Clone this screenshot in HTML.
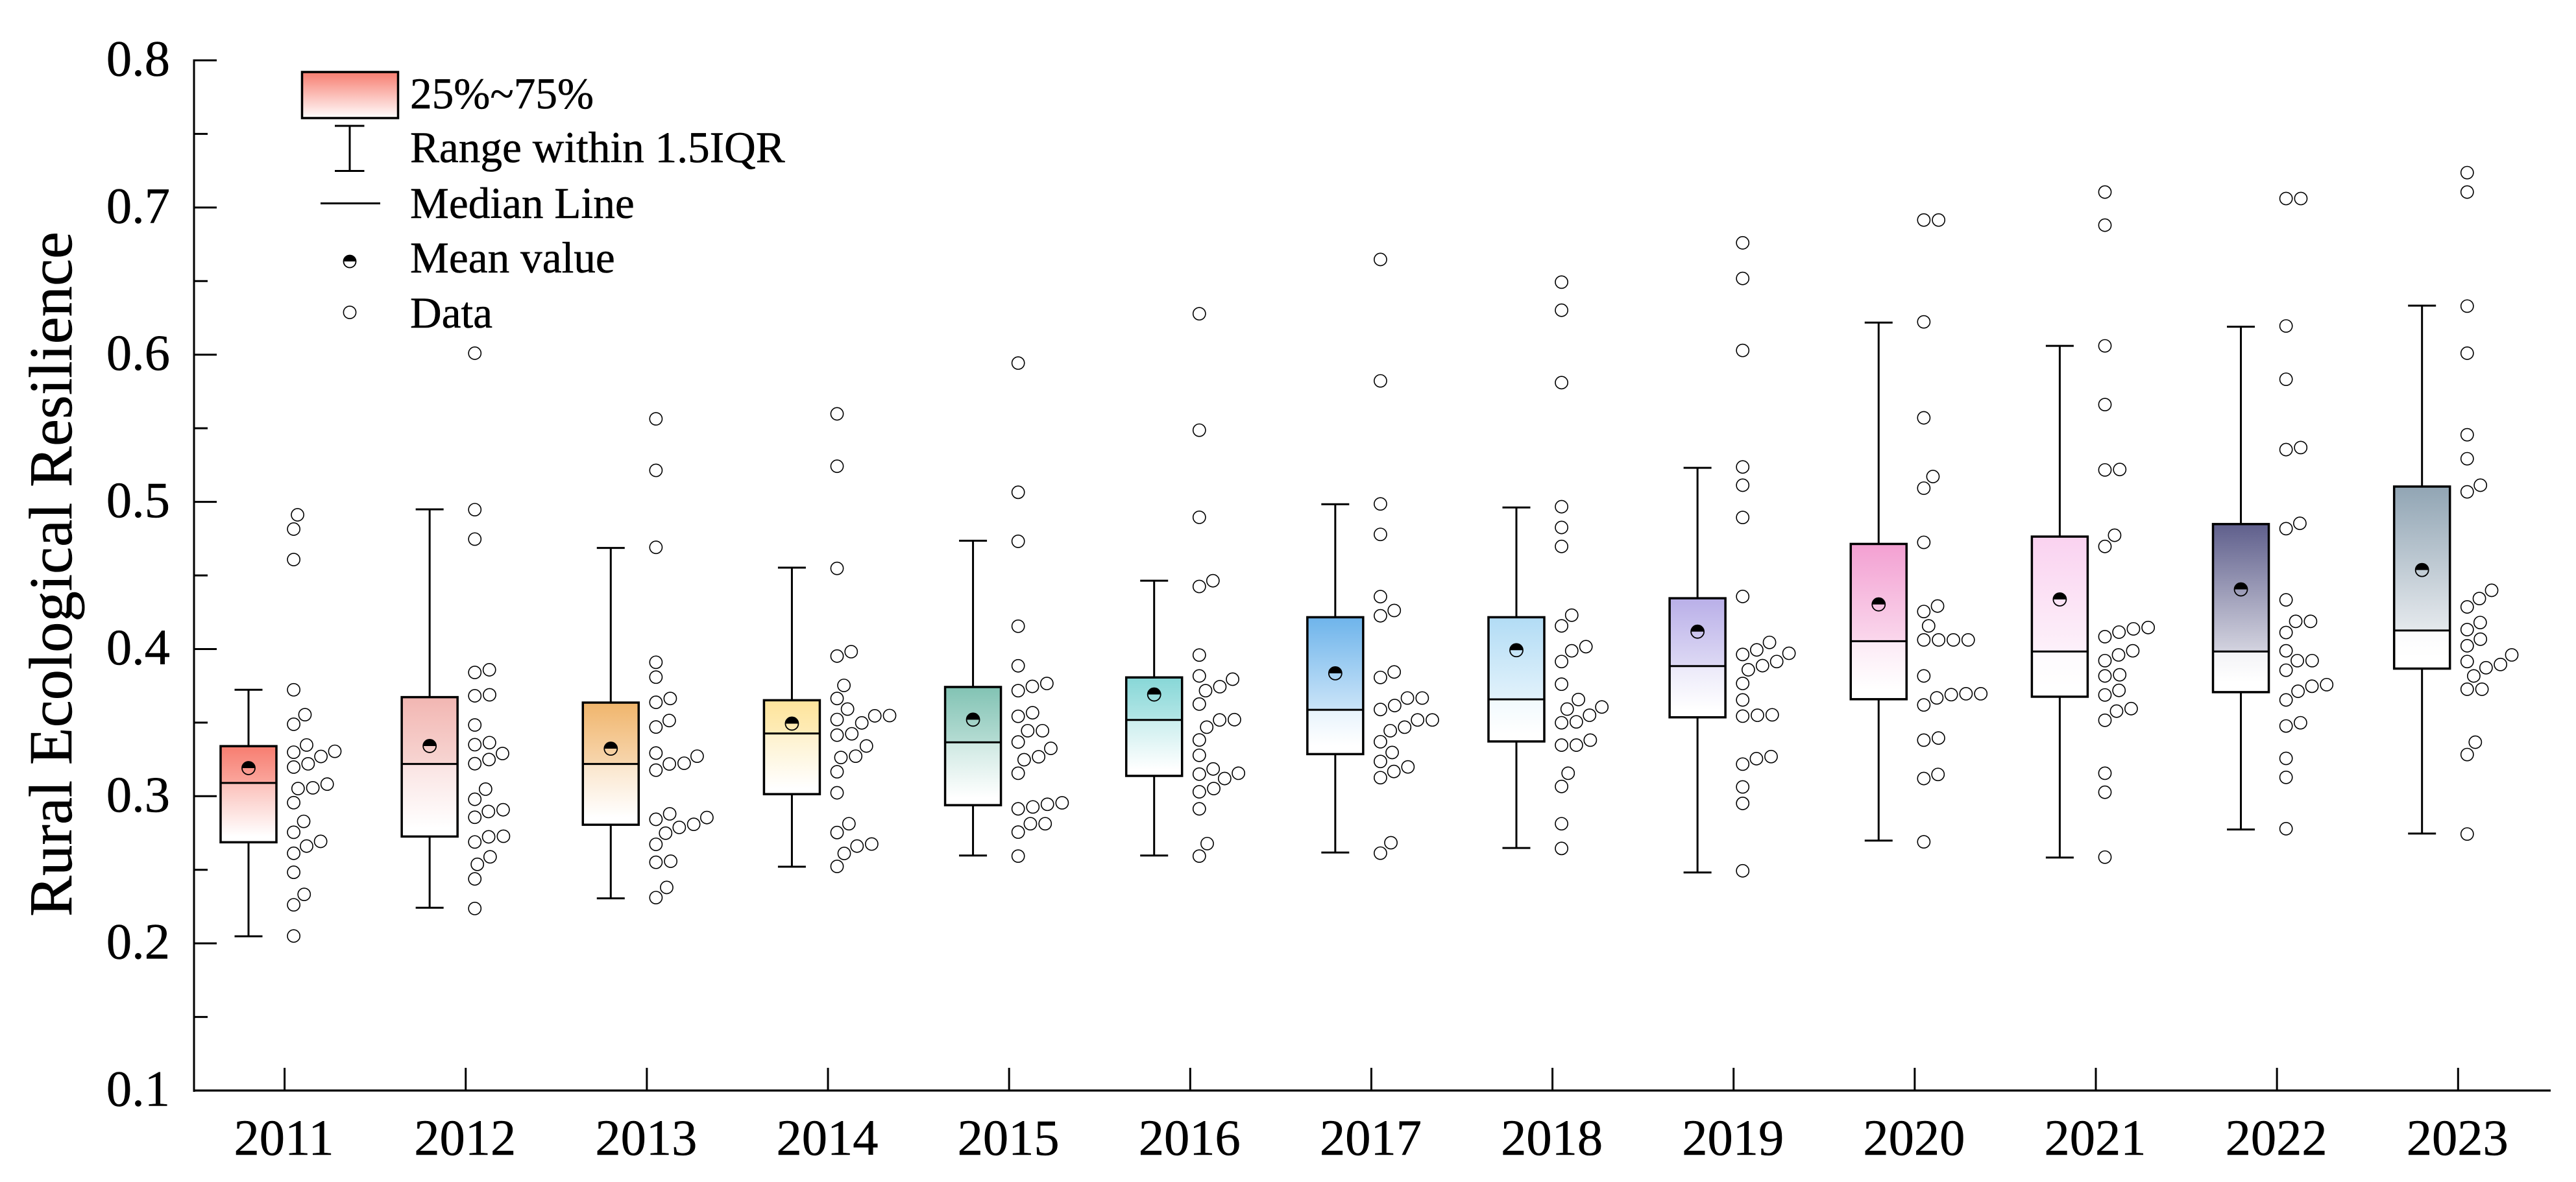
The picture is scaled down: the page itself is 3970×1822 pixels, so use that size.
<!DOCTYPE html>
<html lang="en">
<head>
<meta charset="utf-8">
<title>Rural Ecological Resilience box plot</title>
<style>
html,body{margin:0;padding:0;background:#fff;width:3970px;height:1822px;overflow:hidden}
svg{display:block}
text{font-family:"Liberation Serif",serif;fill:#000;stroke:#000;stroke-width:.5px}
</style>
</head>
<body>
<svg id="chart" xmlns="http://www.w3.org/2000/svg" width="3970" height="1822" viewBox="0 0 3970 1822">
  <defs>
    <linearGradient id="legend-gradient" x1="0" y1="0" x2="0" y2="1">
      <stop offset="0" stop-color="#f77d70"/>
      <stop offset="0.97" stop-color="#fffafa"/>
    </linearGradient>
  </defs>
  <rect x="0" y="0" width="3970" height="1822" fill="#fff"/>
  <text transform="translate(110,1413) rotate(-90)" font-size="94.6">Rural Ecological Resilience</text>
  <g id="plot"></g>
  <g>
    <rect x="465.5" y="111" width="148" height="71" fill="url(#legend-gradient)" stroke="#000" stroke-width="3.5"/>
    <g stroke="#000" stroke-width="3" fill="none">
      <line x1="539" y1="194" x2="539" y2="263.5"/>
      <line x1="516" y1="194" x2="561.5" y2="194"/>
      <line x1="516" y1="263.5" x2="561.5" y2="263.5"/>
    </g>
    <line x1="494" y1="313.5" x2="586" y2="313.5" stroke="#000" stroke-width="3"/>
    <g>
      <circle cx="539" cy="403" r="9.5" fill="none" stroke="#000" stroke-width="1.8"/>
      <path d="M529.5 403A9.5 9.5 0 0 1 548.5 403Z" fill="#000"/>
    </g>
    <circle cx="539" cy="481.5" r="9.6" fill="#fff" stroke="#000" stroke-width="1.6"/>
    <text x="632" y="167" font-size="67.3">25%~75%</text>
    <text x="632" y="250" font-size="67.3">Range within 1.5IQR</text>
    <text x="632" y="336" font-size="67.3">Median Line</text>
    <text x="632" y="420" font-size="67.3">Mean value</text>
    <text x="632" y="505" font-size="67.3">Data</text>
  </g>
</svg>
<script>
const years = [2011,2012,2013,2014,2015,2016,2017,2018,2019,2020,2021,2022,2023];
const whiskerLow  = [.2048,.2242,.2306,.2521,.2597,.2597,.2617,.2648,.2482,.2698,.2583,.2774,.2746];
const quartile1   = [.2687,.2726,.2806,.3014,.2939,.3138,.3286,.3372,.3536,.3659,.3676,.3707,.3867];
const medians     = [.3090,.3219,.3219,.3426,.3366,.3518,.3587,.3658,.3884,.4053,.3983,.3983,.4126];
const quartile3   = [.3340,.3673,.3636,.3652,.3742,.3807,.4216,.4216,.4345,.4714,.4764,.4849,.5104];
const whiskerHigh = [.3723,.4949,.4687,.4553,.4736,.4464,.4984,.4962,.5231,.6218,.6060,.6190,.6333];
const means       = [.3191,.3341,.3323,.3493,.3520,.3691,.3835,.3992,.4118,.4303,.4337,.4405,.4537];
const boxColors = ['#f77d70','#f2b6b2','#f0b56c','#fee49b','#82c3b4','#87d7d7','#6eb4eb','#b2dcf5','#b9afe8','#f3a0d2','#fad2f0','#5f5f8c','#91a5b4'];
const yTickLabels = ['0.1','0.2','0.3','0.4','0.5','0.6','0.7','0.8'];
const yMinorTicks = [.15,.25,.35,.45,.55,.65,.75];

const data2011 = [.4912,.4815,.4608,.3723,.3554,.3489,.3348,.3305,.3299,.3270,.3220,.3198,.3082,.3057,.3052,.2956,.2829,.2755,.2693,.2661,.2612,.2483,.2333,.2262,.2050];
const data2012 = [.6010,.4947,.4747,.3859,.3841,.3689,.3682,.3484,.3364,.3350,.3290,.3249,.3221,.3048,.2979,.2908,.2896,.2857,.2728,.2724,.2689,.2588,.2537,.2438,.2237];
const data2013 = [.5564,.5214,.4691,.3910,.3809,.3664,.3638,.3514,.3470,.3293,.3272,.3224,.3219,.3177,.2880,.2855,.2843,.2809,.2788,.2749,.2673,.2558,.2551,.2380,.2311];
const data2014 = [.5598,.5242,.4548,.3982,.3952,.3753,.3664,.3592,.3548,.3546,.3521,.3498,.3424,.3415,.3341,.3272,.3263,.3166,.3023,.2813,.2753,.2675,.2661,.2611,.2523];
const data2015 = [.5943,.5065,.4732,.4155,.3886,.3766,.3746,.3717,.3567,.3543,.3445,.3445,.3368,.3325,.3268,.3248,.3156,.2955,.2945,.2927,.2914,.2813,.2813,.2756,.2593];
const data2016 = [.6278,.5487,.4895,.4464,.4425,.3959,.3817,.3795,.3744,.3717,.3626,.3520,.3518,.3469,.3382,.3278,.3185,.3156,.3150,.3120,.3052,.3030,.2914,.2678,.2593];
const data2017 = [.6647,.5822,.4986,.4779,.4356,.4262,.4226,.3844,.3807,.3667,.3667,.3616,.3589,.3518,.3518,.3469,.3445,.3370,.3297,.3236,.3199,.3168,.3126,.2684,.2613];
const data2018 = [.6493,.6302,.5810,.4967,.4826,.4697,.4230,.4157,.4016,.3988,.3915,.3761,.3657,.3606,.3592,.3550,.3505,.3499,.3381,.3347,.3347,.3156,.3066,.2813,.2645];
const data2019 = [.6760,.6518,.6029,.5237,.5113,.4894,.4357,.4045,.3994,.3971,.3963,.3915,.3887,.3859,.3766,.3654,.3553,.3550,.3544,.3269,.3255,.3218,.3063,.2951,.2493];
const data2020 = [.6915,.6915,.6223,.5571,.5172,.5093,.4725,.4292,.4255,.4157,.4062,.4062,.4062,.4062,.3817,.3696,.3696,.3690,.3668,.3620,.3395,.3381,.3148,.3120,.2690];
const data2021 = [.7105,.6880,.6060,.5661,.5220,.5217,.4773,.4697,.4146,.4137,.4115,.4084,.3988,.3960,.3921,.3825,.3817,.3719,.3688,.3595,.3578,.3516,.3156,.3027,.2586];
const data2022 = [.7061,.7061,.6195,.5833,.5369,.5355,.4854,.4818,.4334,.4188,.4188,.4112,.3988,.3921,.3921,.3856,.3758,.3747,.3713,.3654,.3499,.3477,.3257,.3128,.2779];
const data2023 = [.7237,.7105,.6330,.6010,.5456,.5293,.5113,.5068,.4399,.4343,.4286,.4180,.4132,.4067,.4022,.3960,.3915,.3895,.3873,.3817,.3727,.3727,.3367,.3283,.2743];
const dataByYear = [data2011,data2012,data2013,data2014,data2015,data2016,data2017,data2018,data2019,data2020,data2021,data2022,data2023];

const NS = 'http://www.w3.org/2000/svg';
const plot = document.getElementById('plot');
const defs = document.querySelector('#chart defs');

function yScale(v){ return 93 + (0.8 - v) * 2268.6; }
function xTick(i){ return 438.6 + i * 279.14; }
function xBox(i){ return xTick(i) - 55.6; }
function xData(i){ return xTick(i) + 14; }

function mk(tag, attrs, parent){
  const el = document.createElementNS(NS, tag);
  for (const k in attrs) el.setAttribute(k, attrs[k]);
  (parent || plot).appendChild(el);
  return el;
}
function mix(hex, w){
  const n = parseInt(hex.slice(1), 16);
  const c = [(n>>16)&255, (n>>8)&255, n&255].map(function(v){ return Math.round(v + (255 - v) * w); });
  return 'rgb(' + c.join(',') + ')';
}
/* Beeswarm: ascending by value, each point takes the smallest rightward offset clear of placed points */
function swarm(values, d){
  const placed = [];
  values.slice().sort(function(a,b){ return a - b; }).forEach(function(v){
    const py = yScale(v);
    const cands = [0];
    placed.forEach(function(p){
      const dy = Math.abs(p.y - py);
      if (dy < d) cands.push(p.x + Math.sqrt(d*d - dy*dy));
    });
    cands.sort(function(a,b){ return a - b; });
    let x = cands[cands.length - 1];
    for (let c = 0; c < cands.length; c++){
      const ok = placed.every(function(p){
        const dx = p.x - cands[c], dy = p.y - py;
        return dx*dx + dy*dy >= d*d - 0.01;
      });
      if (ok){ x = cands[c]; break; }
    }
    placed.push({x:x, y:py, v:v});
  });
  return placed;
}

/* Axes */
const yAxis = mk('line', {x1:299, y1:91.5, x2:299, y2:1683, stroke:'#000', 'stroke-width':3});


const xAxis = mk('line', {x1:297.5, y1:1681, x2:3931, y2:1681, stroke:'#000', 'stroke-width':3.2});



yTickLabels.forEach(function(lab){
  const v = parseFloat(lab);
  const t = mk('line', {x1:299, y1:yScale(v), x2:334, y2:yScale(v), stroke:'#000', 'stroke-width':3});
  
  
  const l = mk('text', {x:262, y:yScale(v) + 23.5, 'text-anchor':'end', 'font-size':78.5});
  
  
  l.textContent = lab;
});
yMinorTicks.forEach(function(v){
  const t = mk('line', {x1:299, y1:yScale(v), x2:320, y2:yScale(v), stroke:'#000', 'stroke-width':3});
  
  
});

years.forEach(function(year, i){
  const tick = mk('line', {x1:xTick(i), y1:1646, x2:xTick(i), y2:1681, stroke:'#000', 'stroke-width':3});
  
  
  const label = mk('text', {x:xTick(i) - 1, y:1780, 'text-anchor':'middle', 'font-size':78.5});
  
  
  label.textContent = year;

  const cx = xBox(i);
  const yHi = yScale(whiskerHigh[i]), yLo = yScale(whiskerLow[i]);
  const yQ3 = yScale(quartile3[i]), yQ1 = yScale(quartile1[i]), yMed = yScale(medians[i]);

  const group = mk('g', {});
  
  

  const w1 = mk('line', {x1:cx, y1:yHi, x2:cx, y2:yQ3, stroke:'#000', 'stroke-width':3}, group);
  
  
  const w2 = mk('line', {x1:cx, y1:yQ1, x2:cx, y2:yLo, stroke:'#000', 'stroke-width':3}, group);
  
  
  const c1 = mk('line', {x1:cx-21.5, y1:yHi, x2:cx+21.5, y2:yHi, stroke:'#000', 'stroke-width':3}, group);
  
  
  const c2 = mk('line', {x1:cx-21.5, y1:yLo, x2:cx+21.5, y2:yLo, stroke:'#000', 'stroke-width':3}, group);
  
  

  const f = (yMed - yQ3) / (yQ1 - yQ3);
  const wm = Math.min(1, f / 0.92);
  const grad = mk('linearGradient', {id:'grad-' + year, x1:0, y1:0, x2:0, y2:1}, defs);
  mk('stop', {offset:0, 'stop-color':boxColors[i]}, grad);
  mk('stop', {offset:f, 'stop-color':mix(boxColors[i], Math.max(0, wm - 0.1))}, grad);
  mk('stop', {offset:f, 'stop-color':mix(boxColors[i], Math.min(1, wm + 0.1))}, grad);
  mk('stop', {offset:0.94, 'stop-color':'#fff'}, grad);
  mk('stop', {offset:1, 'stop-color':'#fff'}, grad);

  const box = mk('rect', {x:cx-43, y:yQ3, width:86, height:yQ1-yQ3, fill:'url(#grad-' + year + ')', stroke:'#000', 'stroke-width':3.5}, group);
  
  
  const med = mk('line', {x1:cx-43, y1:yMed, x2:cx+43, y2:yMed, stroke:'#000', 'stroke-width':3}, group);
  
  

  const my = yScale(means[i]), r = 10;
  const ring = mk('circle', {cx:cx, cy:my, r:r, fill:'none', stroke:'#000', 'stroke-width':1.8}, group);
  
  
  const half = mk('path', {d:'M' + (cx-r) + ' ' + my + 'A' + r + ' ' + r + ' 0 0 1 ' + (cx+r) + ' ' + my + 'Z', fill:'#000'}, group);
  
  

  const dots = mk('g', {});
  
  
  swarm(dataByYear[i], 22.8).forEach(function(p){
    const dot = mk('circle', {cx:xData(i) + p.x, cy:p.y, r:9.6, fill:'#fff', stroke:'#000', 'stroke-width':1.6}, dots);
    
    
  });
});
</script>
</body>
</html>
